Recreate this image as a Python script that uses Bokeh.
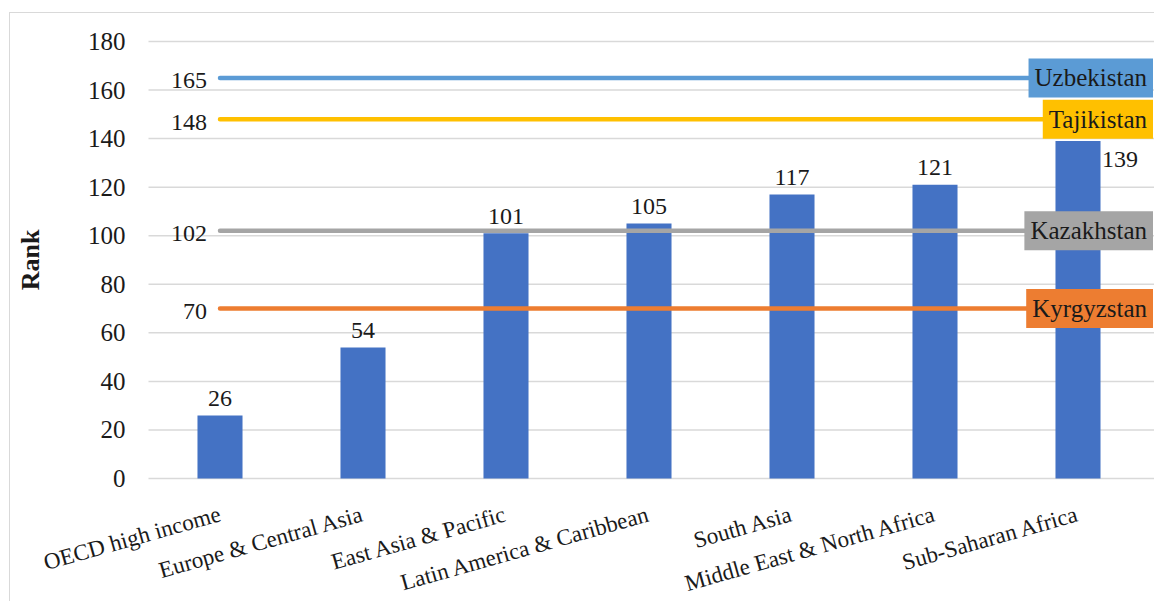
import math
from bokeh.plotting import figure
from bokeh.models import ColumnDataSource, Range1d
from bokeh.core.properties import value
from bokeh.embed import file_html
from bokeh.resources import INLINE

# Regional average ranks
regions = ["OECD high income", "Europe & Central Asia", "East Asia & Pacific",
           "Latin America & Caribbean", "South Asia", "Middle East & North Africa",
           "Sub-Saharan Africa"]
region_rank = [26, 54, 101, 105, 117, 121, 139]

# Country ranks shown as reference lines
countries = ["Uzbekistan", "Tajikistan", "Kazakhstan", "Kyrgyzstan"]
country_rank = [165, 148, 102, 70]
country_color = ["#5B9BD5", "#FFC000", "#A5A5A5", "#ED7D31"]

y_ticks = [0, 20, 40, 60, 80, 100, 120, 140, 160, 180]
y_max = 180
y_title = "Rank"

FONT = value("Liberation Serif")
TXT = "#1a1a1a"

# chart area sits inside a thin border offset from the page corner
OFF_X, OFF_Y = 9, 12
W, H = 1154 - OFF_X, 601 - OFF_Y
plot_left, plot_top = 138, 28   # where the value band starts inside the canvas
plot_h = 437                    # pixel height of the 0..180 value band
cat_px = 143.0                  # pixel width of one category slot
x_idx = list(range(len(regions)))

# the frame fills the whole canvas; tick labels, titles and category names are
# drawn as text inside it
x0 = -0.5 - plot_left / cat_px
y0 = -y_max * (H - plot_top - plot_h) / plot_h
y1 = y_max + y_max * plot_top / plot_h
x_plot_end = x0 + W / cat_px

p = figure(width=W, height=H, output_backend="svg", toolbar_location=None,
           x_range=Range1d(x0, x_plot_end), y_range=Range1d(y0, y1),
           min_border_left=0, min_border_right=0,
           min_border_top=0, min_border_bottom=0)
p.margin = (OFF_Y, 0, 0, OFF_X)
p.styles = {"border-left": "1.5px solid #d9d9d9", "border-top": "1.5px solid #d9d9d9"}
p.outline_line_color = None
p.background_fill_color = "white"
p.border_fill_color = "white"
p.xaxis.visible = False
p.yaxis.visible = False
p.xgrid.grid_line_color = None
p.ygrid.grid_line_color = None

# horizontal gridlines across the value band
nt = len(y_ticks)
p.segment(x0=[-0.5] * nt, x1=[x_plot_end] * nt, y0=y_ticks, y1=y_ticks,
          line_color="#d9d9d9", line_width=1.5)

# y tick labels and title
tick_src = ColumnDataSource(dict(x=[-0.5] * nt, y=y_ticks,
                                 label=[str(t) for t in y_ticks]))
p.text(x="x", y="y", text="label", source=tick_src, x_offset=-23,
       text_align="right", text_baseline="middle", text_font=FONT,
       text_font_size="25px", text_color=TXT)
p.text(x=[-0.5], y=[y_max / 2], text=[y_title], x_offset=-118, angle=math.pi / 2,
       text_align="center", text_baseline="middle", text_font=FONT,
       text_font_style="bold", text_font_size="26px", text_color=TXT)

# slanted category names under the baseline
cat_src = ColumnDataSource(dict(x=x_idx, y=[0] * len(x_idx), label=regions))
p.text(x="x", y="y", text="label", source=cat_src, angle=0.275,
       x_offset=0, y_offset=35, text_align="right", text_baseline="alphabetic",
       text_font=FONT, text_font_size="23px", text_color=TXT)

# bars
bars = ColumnDataSource(dict(x=x_idx, top=region_rank))
p.vbar(x="x", top="top", bottom=0, width=0.315, source=bars,
       fill_color="#4472C4", line_color=None)

# bar value labels (the last one sits beside its bar)
n = len(regions)
xo = [0] * (n - 1) + [24]
yo = [-17] * (n - 1) + [18]
al = ["center"] * (n - 1) + ["left"]
bar_lbl = ColumnDataSource(dict(x=x_idx, y=region_rank,
                                label=[str(v) for v in region_rank],
                                xo=xo, yo=yo, al=al))
p.text(x="x", y="y", text="label", source=bar_lbl, x_offset="xo", y_offset="yo",
       text_align="al", text_baseline="alphabetic", text_font=FONT,
       text_font_size="24px", text_color=TXT)

# country reference lines
for name, rank, col in zip(countries, country_rank, country_color):
    p.line(x=x_idx, y=[rank] * len(x_idx), line_color=col, line_width=4.5,
           line_cap="round")

# values at the left end of each line
left_lbl = ColumnDataSource(dict(x=[x_idx[0]] * len(countries), y=country_rank,
                                 label=[str(v) for v in country_rank]))
p.text(x="x", y="y", text="label", source=left_lbl, x_offset=-13, y_offset=3,
       text_align="right", text_baseline="alphabetic", text_font=FONT,
       text_font_size="24px", text_color=TXT)

# country name tags at the right end of each line
right_lbl = ColumnDataSource(dict(x=[x_idx[-1]] * len(countries), y=country_rank,
                                  label=countries, col=country_color))
p.text(x="x", y="y", text="label", source=right_lbl, x_offset=75, y_offset=0,
       text_align="right", text_baseline="middle", text_font=FONT,
       text_font_size="25px", text_color=TXT,
       background_fill_color="col", padding=6)

open("out.html", "w").write(file_html(p, INLINE))
